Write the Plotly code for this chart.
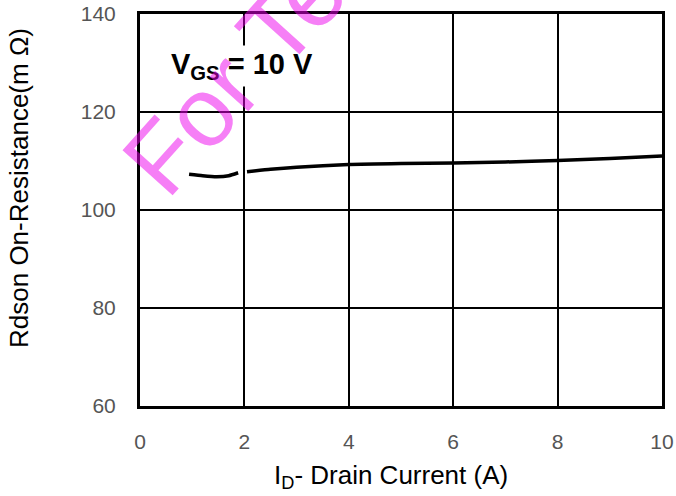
import plotly.graph_objects as go

# Data
drain_current = [0.94, 1.2, 1.47, 1.7, 1.88, None, 2.05, 2.5, 3.0, 4.0, 5.0, 6.0, 7.0, 8.0, 9.0, 10.0]
rdson = [107.3, 107.0, 106.8, 107.0, 107.6, None, 107.8, 108.3, 108.7, 109.3, 109.5, 109.6, 109.8, 110.1, 110.5, 111.0]
x_ticks = [0, 2, 4, 6, 8, 10]
y_ticks = [60, 80, 100, 120, 140]

FONT = "Arial, Liberation Sans, sans-serif"

fig = go.Figure()
fig.add_trace(go.Scatter(
    x=drain_current, y=rdson, mode="lines",
    line=dict(color="black", width=3.5, shape="spline", smoothing=0.5),
    connectgaps=False, showlegend=False, hoverinfo="skip",
))

fig.update_layout(
    width=676, height=496,
    margin=dict(l=140, r=14, t=14, b=90),
    paper_bgcolor="white", plot_bgcolor="white",
    font=dict(family=FONT, color="#555555", size=21),
    xaxis=dict(
        range=[0, 10], tickvals=x_ticks, ticktext=[str(v) for v in x_ticks],
        showgrid=True, gridcolor="black", gridwidth=1.5,
        showline=True, linecolor="black", linewidth=3, mirror=True,
        ticks="outside", ticklen=15, tickcolor="rgba(0,0,0,0)",
        zeroline=False, tickfont=dict(size=21, color="#555555"),
        automargin=False,
    ),
    yaxis=dict(
        range=[60, 140], tickvals=y_ticks, ticktext=[str(v) for v in y_ticks],
        showgrid=True, gridcolor="black", gridwidth=1.5,
        showline=True, linecolor="black", linewidth=3, mirror=True,
        ticks="outside", ticklen=17, tickcolor="rgba(0,0,0,0)",
        zeroline=False, tickfont=dict(size=21, color="#555555"),
        automargin=False,
    ),
)

# V_GS label with white background
fig.add_annotation(
    x=1.95, y=129.4, xref="x", yref="y",
    text="<b>V<sub>GS</sub> = 10 V</b>",
    showarrow=False, bgcolor="white", borderpad=2,
    font=dict(family=FONT, size=29, color="black"),
    xanchor="center", yanchor="middle",
)

# Axis titles
fig.add_annotation(
    x=(391 - 140) / 522, y=-(476 - 406) / 392, xref="paper", yref="paper",
    text="I<sub>D</sub>- Drain Current (A)", showarrow=False,
    font=dict(family=FONT, size=26, color="black"),
    xanchor="center", yanchor="middle",
)
fig.add_annotation(
    x=(19 - 140) / 522, y=(406 - 188) / 392, xref="paper", yref="paper",
    text="Rdson On-Resistance(m Ω)", showarrow=False, textangle=-90,
    font=dict(family=FONT, size=26, color="black"),
    xanchor="center", yanchor="middle",
)

# Watermark
fig.add_annotation(
    x=(336 - 140) / 522, y=(406 + 37) / 392, xref="paper", yref="paper",
    text="For Test Only", showarrow=False, textangle=-48,
    font=dict(family=FONT, size=98, color="rgba(238,0,238,0.5)"),
    xanchor="center", yanchor="middle",
)

fig.write_html("out.html")
